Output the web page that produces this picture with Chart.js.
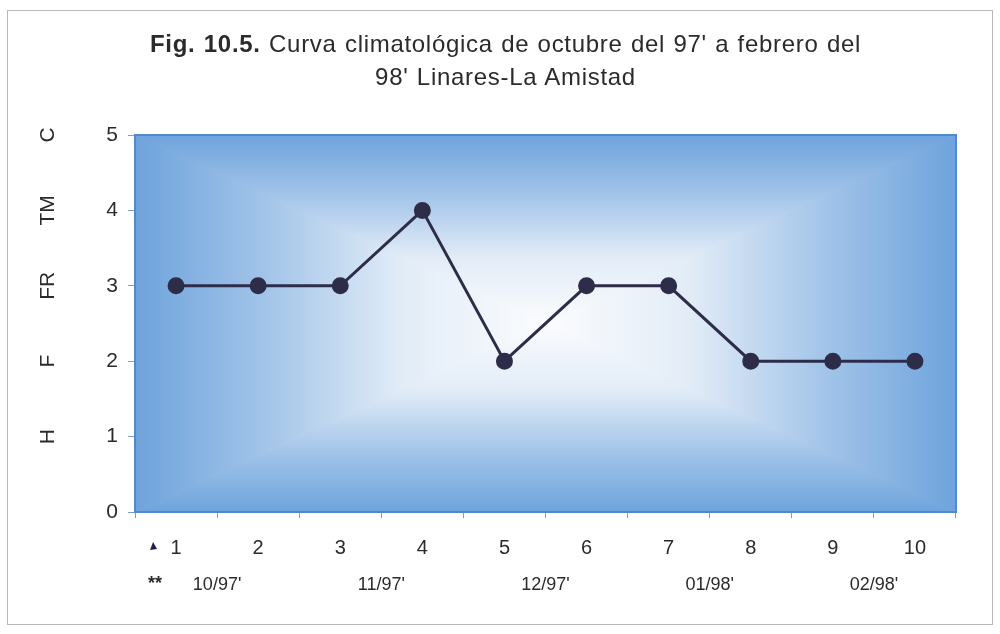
<!DOCTYPE html>
<html>
<head>
<meta charset="utf-8">
<script src="https://cdn.jsdelivr.net/npm/chart.js@4"></script>
<style>
  body { margin: 0; background: #fff; }
  #wrap { position: relative; width: 1000px; height: 634px; }
  #title {
    position: absolute; left: 0; top: 27px; width: 1011px;
    text-align: center; font-family: "Liberation Sans", Arial, sans-serif;
    font-size: 24px; line-height: 33px; color: #2b2b2b;
    letter-spacing: 0.7px; word-spacing: 1px;
  }
  canvas { position: absolute; left: 0; top: 0; }
</style>
</head>
<body>
<div id="wrap">
  <canvas id="chart" width="1000" height="634"></canvas>
  <div id="title"><b>Fig. 10.5.</b> Curva climatológica de octubre del 97' a febrero del<br>98' Linares-La Amistad</div>
</div>
<script>
// data
const points = ["1", "2", "3", "4", "5", "6", "7", "8", "9", "10"];
const months = ["10/97'", "11/97'", "12/97'", "01/98'", "02/98'"];
const values = [3, 3, 3, 4, 2, 3, 3, 2, 2, 2];
// letters next to the y axis, from 1 to 5
const sideLetters = ["H", "F", "FR", "TM", "C"];

const textColor = "#2b2b2b";
const fontFamily = "'Liberation Sans', Arial, sans-serif";

//Plot background: rectangular gradient from the center, plus frame
const backgroundPlugin = {
  id: "background",
  beforeDraw(chart) {
    const ctx = chart.ctx;
    const a = chart.chartArea;
    const cx = (a.left + a.right) / 2;
    const cy = (a.top + a.bottom) / 2;
    // page frame
    ctx.save();
    ctx.strokeStyle = "#b8b8b8";
    ctx.lineWidth = 1;
    ctx.strokeRect(7.5, 10.5, 985, 614);
    // four trapezoids, each with a linear gradient from edge to center
    const sides = [
      [[a.left, a.top], [a.right, a.top], a.left, a.top, a.left, cy],
      [[a.right, a.bottom], [a.left, a.bottom], a.left, a.bottom, a.left, cy],
      [[a.left, a.bottom], [a.left, a.top], a.left, a.top, cx, a.top],
      [[a.right, a.top], [a.right, a.bottom], a.right, a.top, cx, a.top],
    ];
    for (const s of sides) {
      const g = ctx.createLinearGradient(s[2], s[3], s[4], s[5]);
      g.addColorStop(0, "#6ea3dc");
      g.addColorStop(0.3, "#9fc2e8");
      g.addColorStop(0.65, "#e2ecf7");
      g.addColorStop(1, "#fbfcfe");
      ctx.fillStyle = g;
      ctx.beginPath();
      ctx.moveTo(s[0][0], s[0][1]);
      ctx.lineTo(s[1][0], s[1][1]);
      ctx.lineTo(cx, cy);
      ctx.closePath();
      ctx.fill();
      ctx.strokeStyle = g;
      ctx.stroke();
    }
    ctx.restore();
  },
  afterDatasetsDraw(chart) {
    const ctx = chart.ctx;
    const a = chart.chartArea;
    ctx.save();
    ctx.strokeStyle = "#4f8ad0";
    ctx.lineWidth = 2;
    ctx.strokeRect(a.left, a.top, a.right - a.left, a.bottom - a.top);
    ctx.restore();
  },
  afterDraw(chart) {
    const ctx = chart.ctx;
    const y = chart.scales.y;
    const x = chart.scales.x;
    ctx.save();
    ctx.fillStyle = textColor;
    ctx.font = "21px " + fontFamily;
    ctx.textAlign = "center";
    ctx.textBaseline = "middle";
    //Rotated letters beside the y axis
    sideLetters.forEach((t, i) => {
      ctx.save();
      ctx.translate(48, y.getPixelForValue(i + 1));
      ctx.rotate(-Math.PI / 2);
      ctx.fillText(t, 0, 0);
      ctx.restore();
    });
    //Row markers left of the x labels
    const x0 = x.getPixelForValue(0);
    ctx.fillStyle = "#1f2050";
    ctx.beginPath();
    ctx.moveTo(x0 - 26, 550);
    ctx.lineTo(x0 - 23, 542);
    ctx.lineTo(x0 - 19, 549);
    ctx.closePath();
    ctx.fill();
    ctx.fillStyle = textColor;
    ctx.font = "bold 18px " + fontFamily;
    ctx.fillText("**", x0 - 21, 584);
    ctx.restore();
  },
};

new Chart(document.getElementById("chart"), {
  type: "line",
  data: {
    labels: points,
    datasets: [
      {
        data: values,
        xAxisID: "x",
        borderColor: "#2d2d4a",
        backgroundColor: "#2d2d4a",
        borderWidth: 3,
        pointRadius: 7,
        pointHoverRadius: 7,
        tension: 0,
      },
    ],
  },
  plugins: [backgroundPlugin],
  options: {
    responsive: false,
    animation: false,
    layout: { padding: { top: 135, right: 44, bottom: 30, left: 0 } },
    plugins: {
      legend: { display: false },
      title: { display: false },
      tooltip: { enabled: false },
    },
    scales: {
      x: {
        type: "category",
        position: "bottom",
        offset: true,
        grid: {
          offset: true,
          drawOnChartArea: false,
          tickLength: 6,
          color: "#7f9fc8",
        },
        border: { display: false },
        ticks: {
          color: textColor,
          font: { family: fontFamily, size: 20 },
          padding: 18,
          maxRotation: 0,
        },
        afterFit: (scale) => { scale.height = 54; },
      },
      x2: {
        type: "category",
        position: "bottom",
        labels: months,
        offset: true,
        grid: { display: false },
        border: { display: false },
        ticks: {
          color: textColor,
          font: { family: fontFamily, size: 18 },
          padding: 0,
          maxRotation: 0,
        },
        afterFit: (scale) => { scale.height = 38; },
      },
      y: {
        min: 0,
        max: 5,
        grid: {
          drawOnChartArea: false,
          tickLength: 7,
          color: "#7f9fc8",
        },
        border: { display: false },
        ticks: {
          stepSize: 1,
          color: textColor,
          font: { family: fontFamily, size: 21 },
          padding: 10,
        },
        afterFit: (scale) => { scale.width = 135; },
      },
    },
  },
});
</script>
</body>
</html>
